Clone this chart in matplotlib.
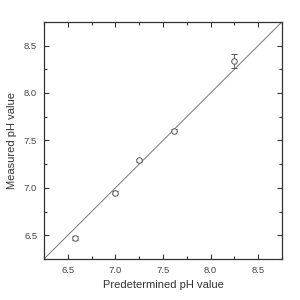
"""
Measured vs predetermined pH
"""

import numpy as np
import matplotlib
matplotlib.use("Agg")
import matplotlib.pyplot as plt
from matplotlib.ticker import MultipleLocator

plt.rcParams['font.family'] = ['Liberation Sans', 'DejaVu Sans']

# data
ph_set = [6.57, 7.00, 7.25, 7.62, 8.25]
ph_meas = [6.47, 6.95, 7.29, 7.60, 8.34]
ph_err = [0.025, 0.015, 0.015, 0.015, 0.075]
ref_line = [6.25, 8.75]

fig = plt.figure(figsize=(3, 3), dpi=100)
ax = fig.add_axes([0.147, 0.137, 0.793, 0.79])

ax.plot(ref_line, ref_line, color="#777777", lw=0.7)
ax.errorbar(ph_set, ph_meas, yerr=ph_err, fmt="o", mfc="white", mec="#555555",
            ms=4, mew=0.7, ecolor="#555555", elinewidth=0.6, capsize=2.5, capthick=0.6)

ax.set_xlim(6.25, 8.75)
ax.set_ylim(6.25, 8.75)
ax.xaxis.set_major_locator(MultipleLocator(0.5))
ax.yaxis.set_major_locator(MultipleLocator(0.5))
ax.xaxis.set_minor_locator(MultipleLocator(0.25))
ax.yaxis.set_minor_locator(MultipleLocator(0.25))
ax.tick_params(which="both", direction="in", top=True, right=True,
               labeltop=False, labelright=False, color="#333333", width=0.8)
ax.tick_params(which="major", length=3.5, labelsize=6.8, labelcolor="#444444", pad=5)
ax.tick_params(which="minor", length=2)
for s in ax.spines.values():
  s.set_color("#333333")
  s.set_linewidth(0.9)

ax.set_xlabel("Predetermined pH value", fontsize=8, color="#333333", labelpad=4)
ax.set_ylabel("Measured pH value", fontsize=8, color="#333333", labelpad=5)

fig.savefig("out.png", dpi=100)
